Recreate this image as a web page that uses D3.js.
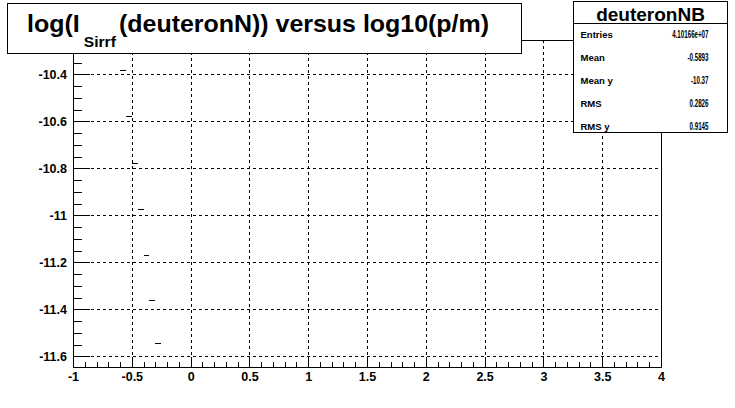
<!DOCTYPE html>
<html><head><meta charset="utf-8">
<script src="https://cdn.jsdelivr.net/npm/d3@7"></script>
<style>body{margin:0;background:#fff}svg{display:block}text{font-family:"Liberation Sans",Arial,sans-serif;font-weight:bold}</style>
</head><body>
<svg id="c" width="735" height="408"></svg>
<script>
// ---- data ----
const binLow = [-0.60, -0.55, -0.50, -0.45, -0.40, -0.35, -0.30];
const binWidth = 0.05;
const yValues = [-10.382, -10.577, -10.779, -10.974, -11.169, -11.360, -11.545];
const xTicks = [-1, -0.5, 0, 0.5, 1, 1.5, 2, 2.5, 3, 3.5, 4];
const xTickLabels = ["-1", "-0.5", "0", "0.5", "1", "1.5", "2", "2.5", "3", "3.5", "4"];
const yTicks = [-10.4, -10.6, -10.8, -11, -11.2, -11.4, -11.6];
const yTickLabels = ["-10.4", "-10.6", "-10.8", "-11", "-11.2", "-11.4", "-11.6"];
const statNames = ["Entries", "Mean", "Mean y", "RMS", "RMS y"];
const statValues = ["4.10166e+07", "-0.5893", "-10.37", "0.2826", "0.9145"];
const statTitle = "deuteronNB";
const titleMain = "log(I", titleSub = "Sirrf", titleRest = "(deuteronN)) versus log10(p/m)";
const xDomain = [-1, 4];
const yDomain = [-11.6455, -10.254];

// ---- layout ----
const L = 73, R = 661, T = 40, B = 367;
const svg = d3.select("#c");
const x = d3.scaleLinear().domain(xDomain).range([L, R]);
const y = d3.scaleLinear().domain(yDomain).range([B, T]);

// grid
const g = svg.append("g").attr("stroke", "#000").attr("stroke-width", 1).attr("stroke-dasharray", "3,3").attr("shape-rendering", "crispEdges");
g.selectAll("line.v").data(xTicks.filter(d => d > xDomain[0] && d < xDomain[1])).join("line")
  .attr("x1", d => Math.round(x(d)) + 0.5).attr("x2", d => Math.round(x(d)) + 0.5).attr("y1", B).attr("y2", T);
g.selectAll("line.h").data(yTicks).join("line")
  .attr("y1", d => Math.round(y(d)) + 0.5).attr("y2", d => Math.round(y(d)) + 0.5).attr("x1", L).attr("x2", R);

// minor tick values
const xMinor = d3.range(-1, 4.0001, 0.1).map(v => +v.toFixed(2));
const yMinor = d3.range(-11.65, -10.25, 0.05).map(v => +v.toFixed(2)).filter(v => v >= yDomain[0] && v <= yDomain[1]);

function styleAxis(sel) {
  sel.select(".domain").remove();
  sel.selectAll(".tick line").attr("stroke", "#000").attr("shape-rendering", "crispEdges");
  sel.selectAll("text").attr("fill", "#000").style("font-family", '"Liberation Sans",Arial,sans-serif').style("font-weight", "bold");
}
// x axis
svg.append("g").attr("transform", `translate(0,${B})`)
  .call(d3.axisBottom(x).tickValues(xMinor).tickSize(-5).tickFormat(""))
  .call(styleAxis);
svg.append("g").attr("transform", `translate(0,${B})`)
  .call(d3.axisBottom(x).tickValues(xTicks).tickSize(-10).tickSizeOuter(0).tickPadding(5.5)
    .tickFormat((d, i) => xTickLabels[i]))
  .call(styleAxis)
  .selectAll("text").style("font-size", "12.5px");
// y axis
svg.append("g").attr("transform", `translate(${L},0)`)
  .call(d3.axisLeft(y).tickValues(yMinor).tickSize(-9).tickFormat(""))
  .call(styleAxis);
svg.append("g").attr("transform", `translate(${L},0)`)
  .call(d3.axisLeft(y).tickValues(yTicks).tickSize(-17).tickSizeOuter(0).tickPadding(6)
    .tickFormat((d, i) => yTickLabels[i]))
  .call(styleAxis)
  .selectAll("text").style("font-size", "12.5px");

// data marks
svg.append("g").attr("stroke", "#000").attr("stroke-width", 1).attr("shape-rendering", "crispEdges")
  .selectAll("line").data(binLow).join("line")
  .attr("x1", d => x(d)).attr("x2", d => x(d + binWidth))
  .attr("y1", (d, i) => Math.round(y(yValues[i])) + 0.5).attr("y2", (d, i) => Math.round(y(yValues[i])) + 0.5);

// frame
svg.append("rect").attr("x", L + 0.5).attr("y", T + 0.5).attr("width", R - L).attr("height", B - T)
  .attr("fill", "none").attr("stroke", "#000").attr("shape-rendering", "crispEdges");

// title box
svg.append("rect").attr("x", 7.5).attr("y", 3.5).attr("width", 514).attr("height", 50)
  .attr("fill", "#fff").attr("stroke", "#000").attr("shape-rendering", "crispEdges");
const tg = svg.append("g");
const tt = tg.append("text").attr("x", 0).attr("y", 0).style("font-size", "24px");
tt.append("tspan").text(titleMain);
tt.append("tspan").attr("dx", 4).attr("dy", 15).style("font-size", "15px").text(titleSub);
tt.append("tspan").attr("dx", 3).attr("dy", -15).text(titleRest);
const tw = tt.node().getComputedTextLength();
tg.attr("transform", `translate(27,32) scale(${(482 - 27) / tw},1)`);

// stats box
const sx = 573, sw = 154;
svg.append("rect").attr("x", sx + 0.5).attr("y", 1.5).attr("width", sw).attr("height", 131)
  .attr("fill", "#fff").attr("stroke", "#000").attr("shape-rendering", "crispEdges");
svg.append("line").attr("x1", sx).attr("x2", sx + sw).attr("y1", 23.5).attr("y2", 23.5).attr("stroke", "#000");
svg.append("text").attr("x", sx + sw / 2 + 0.5).attr("y", 20.5).attr("text-anchor", "middle")
  .style("font-size", "19px").text(statTitle);
const rows = svg.append("g");
rows.selectAll("text.n").data(statNames).join("text")
  .attr("x", 580.5).attr("y", (d, i) => 37.5 + i * 23).style("font-size", "9.5px").text(d => d);
rows.selectAll("text.v").data(statValues).join("text")
  .attr("text-anchor", "end")
  .attr("transform", (d, i) => `translate(708.5,${37.5 + i * 23}) scale(0.62,1)`)
  .style("font-size", "10px").text(d => d);
</script>
</body></html>
